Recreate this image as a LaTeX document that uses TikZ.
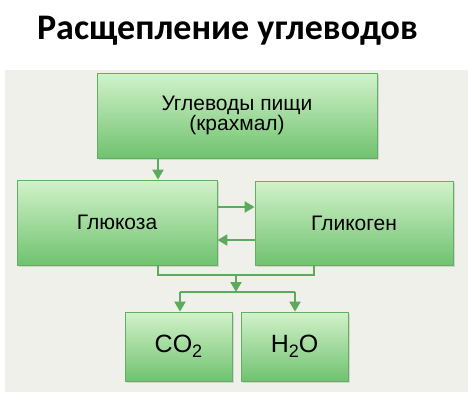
\documentclass[tikz,border=0pt]{standalone}
\usepackage{fontspec}
\setmainfont{Liberation Sans}
\newfontfamily\titlefont{Carlito}
\usetikzlibrary{arrows.meta,shadows}
\definecolor{bg}{HTML}{F0F0EB}
\definecolor{boxtop}{HTML}{D2F2CA}
\definecolor{boxbot}{HTML}{70C270}
\definecolor{boxline}{HTML}{62AE62}
\definecolor{arrcol}{HTML}{5CAA5C}
\newcommand{\subdig}[1]{{\fontsize{18}{18}\selectfont\raisebox{-5pt}{#1}}}
\tikzset{
  gbox/.style={draw=boxline, line width=0.8pt, top color=boxtop, bottom color=boxbot,
    minimum width=#1, inner sep=0pt, align=center, font=\fontsize{21}{18}\selectfont,
    drop shadow={opacity=0.25, shadow xshift=1.5pt, shadow yshift=-1.5pt}},
  chem/.style={font=\fontsize{25}{25}\selectfont},
  arr/.style={draw=arrcol, line width=2pt, -{Triangle[width=11pt,length=10pt]}},
  ln/.style={draw=arrcol, line width=2pt}
}
\begin{document}
\begin{tikzpicture}[x=1pt,y=-1pt]
\useasboundingbox (0,0) rectangle (473,400);
\fill[white] (0,0) rectangle (473,400);
\node[font=\titlefont\bfseries\fontsize{36}{38}\selectfont, anchor=base] (title) at (227.5,39) {Расщепление углеводов};
\fill[bg] (5,70) rectangle (468,392);
\node[gbox=280pt, minimum height=85pt] (top) at (237,115.5) {Углеводы пищи\\(крахмал)};
\node[gbox=200pt, minimum height=85pt] (glu) at (117,222.5) {Глюкоза};
\node[gbox=198pt, minimum height=84pt] (gly) at (354,223) {Гликоген};
\node[gbox=107pt, minimum height=69pt, chem] (co) at (178.5,346.5) {CO\subdig{2}};
\node[gbox=107pt, minimum height=69pt, chem] (ho) at (294.5,346.5) {H\subdig{2}O};
\coordinate (a1) at (158,0);
\coordinate (r1) at (0,207);
\coordinate (r2) at (0,240);
\coordinate (j1) at (158,275);
\coordinate (j2) at (314,275);
\coordinate (m) at (236,275);
\coordinate (s) at (236,292);
\coordinate (s1) at (180,292);
\coordinate (s2) at (295,292);
\draw[arr] (top.south -| a1) -- (glu.north -| a1);
\draw[arr] (glu.east |- r1) -- (gly.west |- r1);
\draw[arr] (gly.west |- r2) -- (glu.east |- r2);
\draw[ln] (glu.south -| j1) -- (j1) -- (j2) -- (gly.south -| j2);
\draw[arr] (m) -- (s);
\draw[ln] (s1 |- s) -- (s2 |- s);
\draw[arr] (s1) -- (co.north -| s1);
\draw[arr] (s2) -- (ho.north -| s2);
\end{tikzpicture}
\end{document}
